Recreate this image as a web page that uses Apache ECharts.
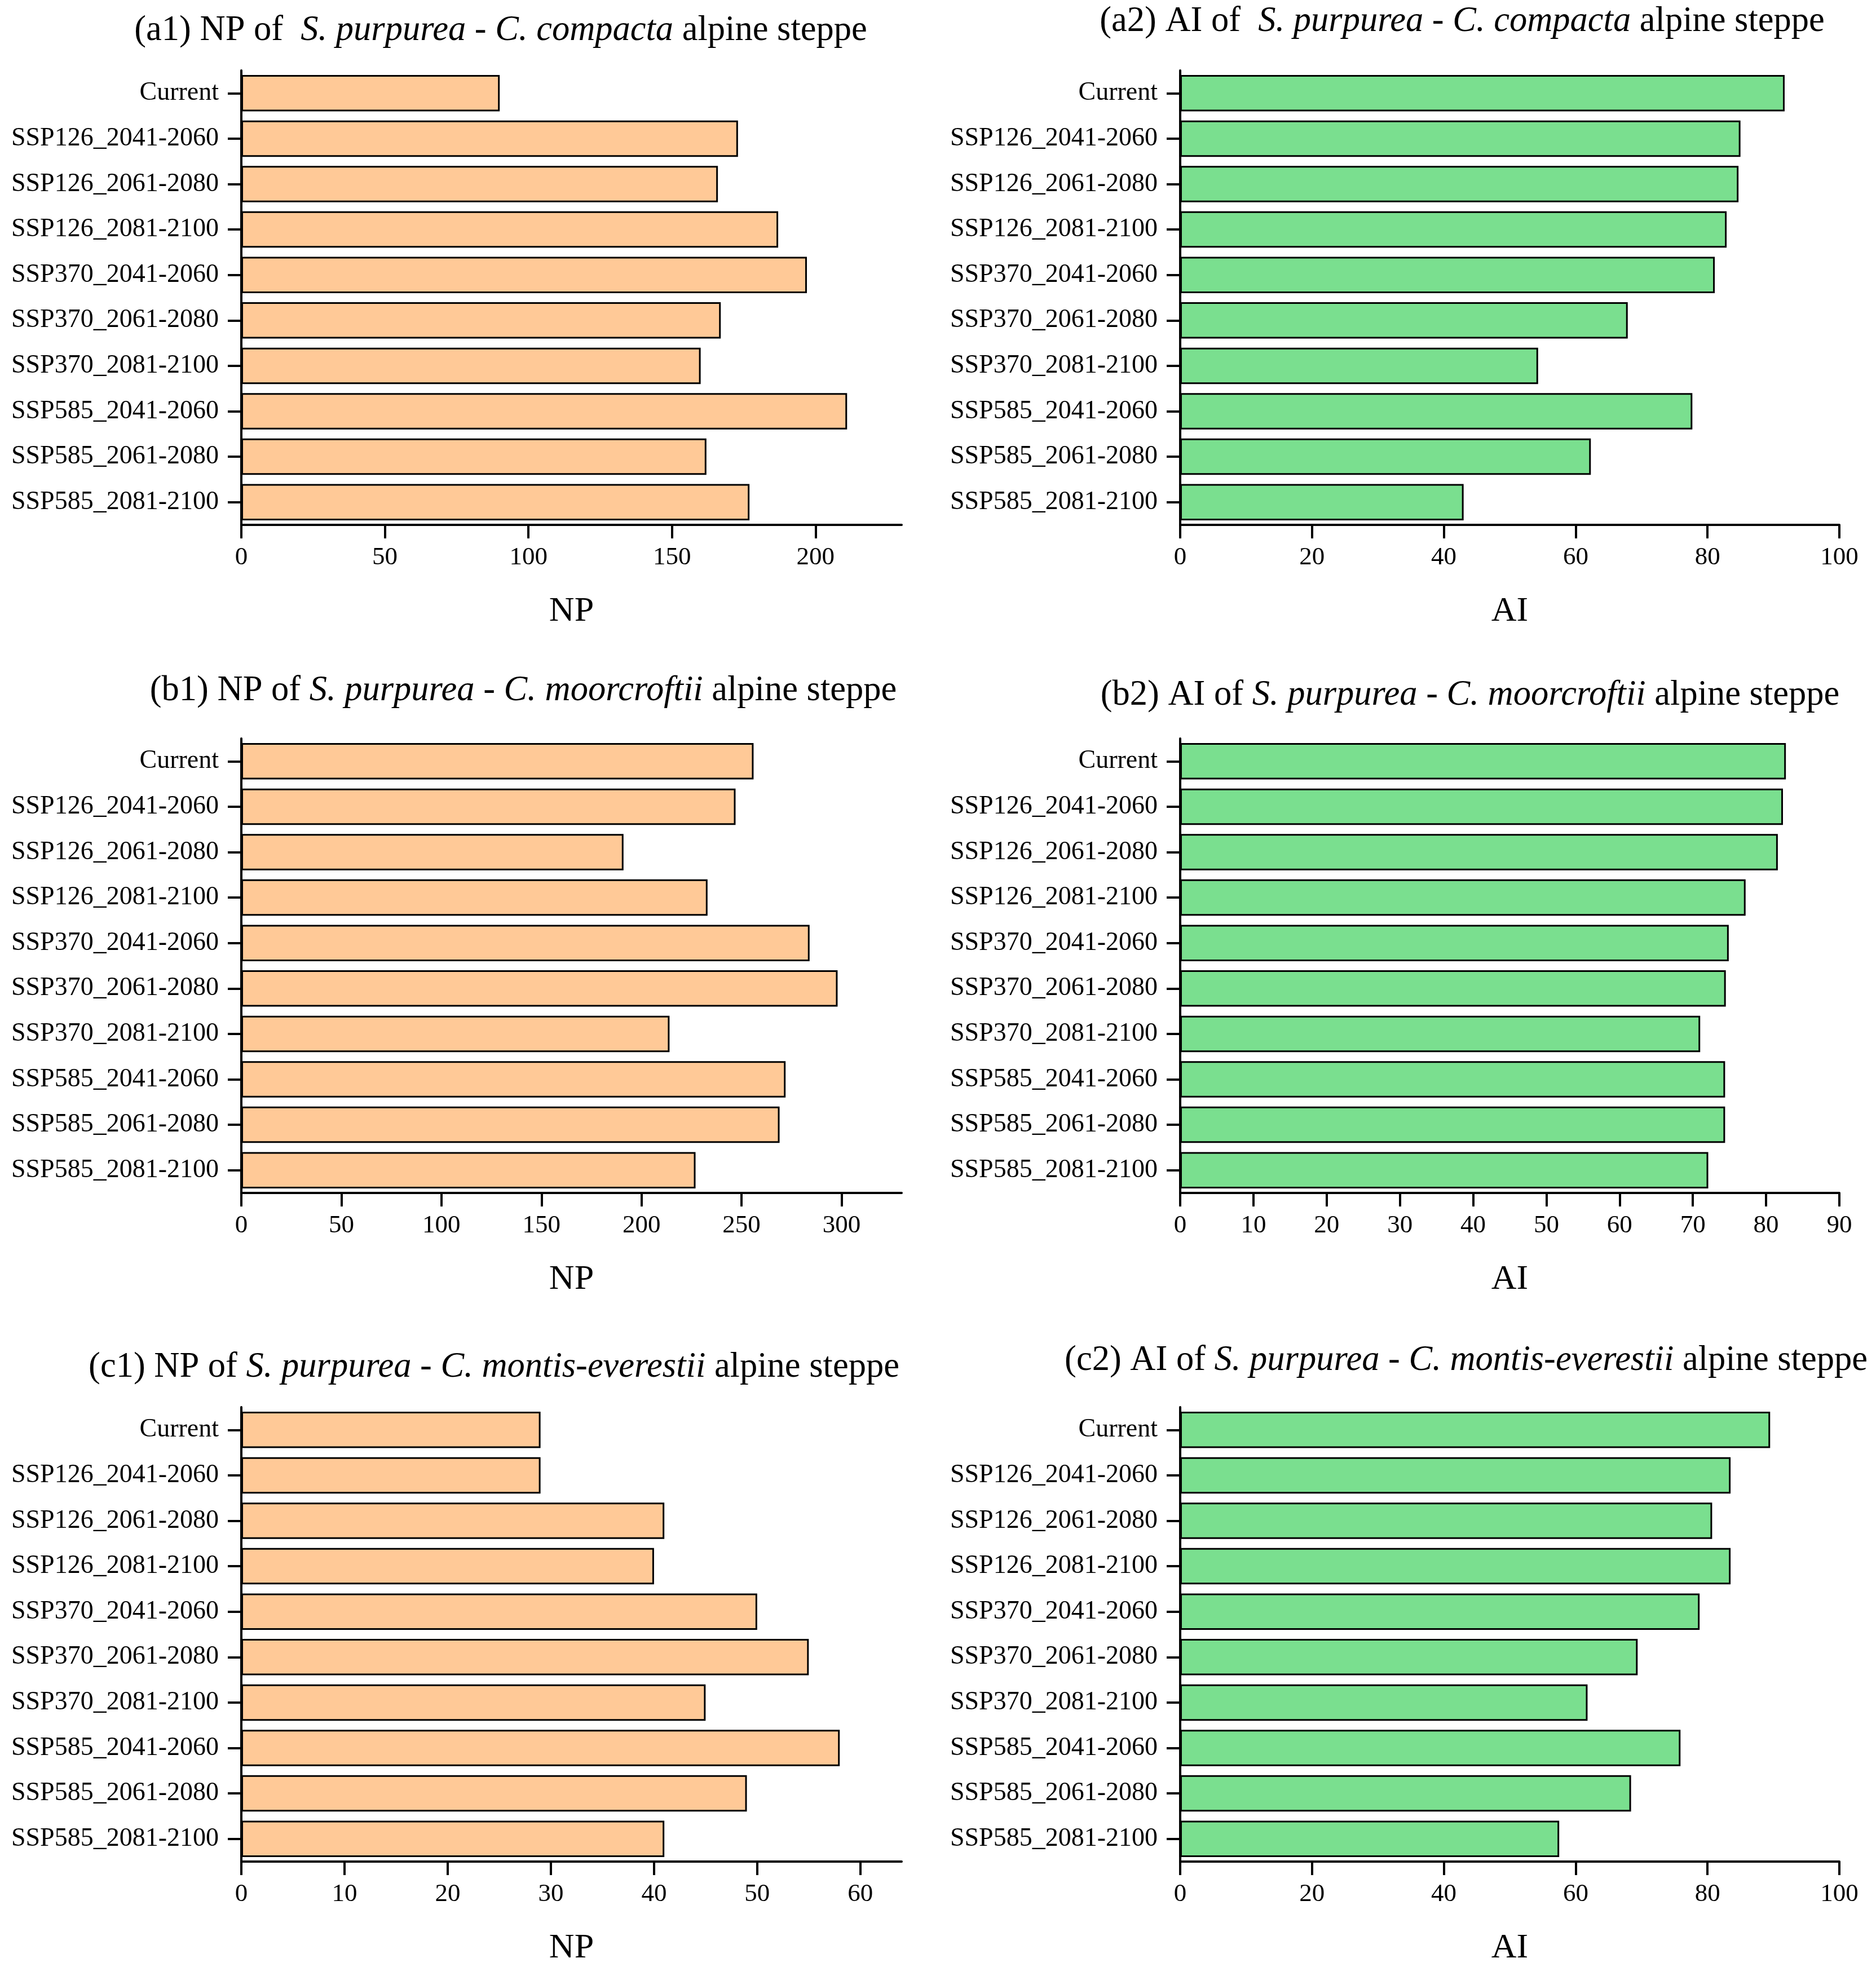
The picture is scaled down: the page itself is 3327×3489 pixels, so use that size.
<!DOCTYPE html>
<html>
<head>
<meta charset="utf-8">
<script src="https://cdn.jsdelivr.net/npm/echarts@6/dist/echarts.min.js"></script>
<style>
html,body{margin:0;padding:0;background:#fff;}
#c{width:3327px;height:3489px;}
</style>
</head>
<body>
<div id="c"></div>
<script>
const categories = ['Current','SSP126_2041-2060','SSP126_2061-2080','SSP126_2081-2100','SSP370_2041-2060','SSP370_2061-2080','SSP370_2081-2100','SSP585_2041-2060','SSP585_2061-2080','SSP585_2081-2100'];

const npCompacta = [90,173,166,187,197,167,160,211,162,177];
const aiCompacta = [91.7,85.0,84.7,82.9,81.1,67.9,54.3,77.7,62.3,43.0];
const npMoorcroftii = [256,247,191,233,284,298,214,272,269,227];
const aiMoorcroftii = [82.7,82.3,81.6,77.2,74.9,74.5,71.0,74.4,74.4,72.1];
const npEverestii = [29,29,41,40,50,55,45,58,49,41];
const aiEverestii = [89.5,83.5,80.7,83.5,78.8,69.4,61.8,75.9,68.4,57.5];

const ticksA1 = [0,50,100,150,200];
const ticksA2 = [0,20,40,60,80,100];
const ticksB1 = [0,50,100,150,200,250,300];
const ticksB2 = [0,10,20,30,40,50,60,70,80,90];
const ticksC1 = [0,10,20,30,40,50,60];
const ticksC2 = [0,20,40,60,80,100];

const axisMax = [230,100,330,90,64,100];

const titles = [
  '(a1) NP of  {i|S. purpurea} - {i|C. compacta} alpine steppe',
  '(a2) AI of  {i|S. purpurea} - {i|C. compacta} alpine steppe',
  '(b1) NP of {i|S. purpurea} - {i|C. moorcroftii} alpine steppe',
  '(b2) AI of {i|S. purpurea} - {i|C. moorcroftii} alpine steppe',
  '(c1) NP of {i|S. purpurea} - {i|C. montis-everestii} alpine steppe',
  '(c2) AI of {i|S. purpurea} - {i|C. montis-everestii} alpine steppe'
];
const axisNames = ['NP','AI','NP','AI','NP','AI'];

const seriesData = [npCompacta, aiCompacta, npMoorcroftii, aiMoorcroftii, npEverestii, aiEverestii];
const tickSets = [ticksA1, ticksA2, ticksB1, ticksB2, ticksC1, ticksC2];

const FONT = 'Liberation Serif';
const ORANGE = '#FFC997';
const GREEN = '#7ADF8F';

const colLeft = [428, 2093];
const colWidth = [1171, 1169];
const rowTop = [125, 1310, 2496];
const gridH = 806;
const titlePos = [[888,55],[2593,39],[928,1226],[2607,1234],[876,2426],[2600,2414]];

const grids = [], xAxes = [], yAxes = [], series = [], titleOpts = [];
for (let i = 0; i < 6; i++) {
  const col = i % 2, row = Math.floor(i / 2);
  grids.push({left: colLeft[col], top: rowTop[row], width: colWidth[col], height: gridH, containLabel: false});
  const ticks = tickSets[i];
  xAxes.push({
    type: 'value', gridIndex: i, min: 0, max: axisMax[i],
    interval: ticks[1] - ticks[0],
    name: axisNames[i], nameLocation: 'middle', nameGap: 123,
    nameTextStyle: {fontFamily: FONT, fontSize: 62, color: '#000'},
    axisLine: {show: true, lineStyle: {color: '#000', width: 4}},
    axisTick: {show: true, length: 24, lineStyle: {color: '#000', width: 4}, customValues: ticks},
    axisLabel: {fontFamily: FONT, fontSize: 45, color: '#000', margin: 36, customValues: ticks},
    splitLine: {show: false}
  });
  yAxes.push({
    type: 'category', gridIndex: i, data: categories, inverse: true,
    axisLine: {show: true, lineStyle: {color: '#000', width: 4}},
    axisTick: {show: true, alignWithLabel: true, length: 24, lineStyle: {color: '#000', width: 4}},
    axisLabel: {fontFamily: FONT, fontSize: 46, color: '#000', margin: 40},
    splitLine: {show: false}
  });
  series.push({
    type: 'bar', xAxisIndex: i, yAxisIndex: i, data: seriesData[i],
    barCategoryGap: '20%',
    itemStyle: {color: col === 0 ? ORANGE : GREEN, borderColor: '#000', borderWidth: 3},
    emphasis: {disabled: true}
  });
  titleOpts.push({
    text: titles[i], left: titlePos[i][0], top: titlePos[i][1],
    textAlign: 'center', textVerticalAlign: 'middle', padding: 0,
    textStyle: {fontFamily: FONT, fontSize: 62.5, fontWeight: 'normal', color: '#000',
      rich: {i: {fontFamily: FONT, fontSize: 62.5, fontStyle: 'italic', color: '#000'}}}
  });
}

const chart = echarts.init(document.getElementById('c'), null, {renderer: 'canvas'});
chart.setOption({
  backgroundColor: '#fff',
  animation: false,
  title: titleOpts,
  grid: grids,
  xAxis: xAxes,
  yAxis: yAxes,
  series: series
});
</script>
</body>
</html>
